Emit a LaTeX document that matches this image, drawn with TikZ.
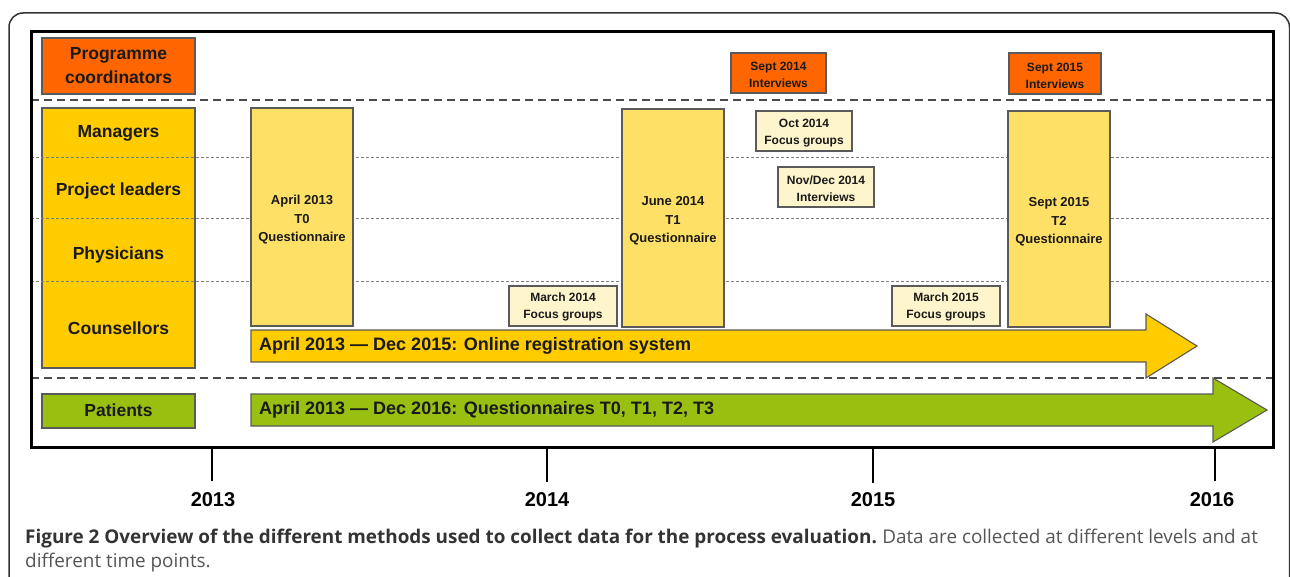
\documentclass[tikz,border=0pt]{standalone}
\usepackage{fontspec}
\setmainfont{Liberation Sans}
\newfontfamily\capfont{Open Sans}
\definecolor{orng}{HTML}{FF6600}
\definecolor{ylw}{HTML}{FFCC00}
\definecolor{tbox}{HTML}{FFE066}
\definecolor{cream}{HTML}{FFF5CC}
\definecolor{grn}{HTML}{99C010}
\definecolor{edge}{HTML}{5A5A5A}
\definecolor{ink}{HTML}{1A1A1A}
\definecolor{capbold}{HTML}{333333}
\definecolor{capreg}{HTML}{555555}
\tikzset{
  box/.style={draw=edge, line width=1.1pt, inner sep=0pt, align=center, text=ink, font=\bfseries},
  lbl/.style={box, font=\bfseries\fontsize{17.5}{24}\selectfont},
  plain/.style={inner sep=0pt, align=center, text=ink, font=\bfseries\fontsize{17.5}{24}\selectfont},
  tqfont/.style={inner sep=0pt, align=center, text=ink, font=\bfseries\fontsize{13}{18.5}\selectfont},
  smfont/.style={inner sep=0pt, align=center, text=ink, font=\bfseries\fontsize{12}{17}\selectfont},
  tq/.style={box, fill=tbox, label={[tqfont, yshift=-3pt]center:{#1}}},
  small/.style args={#1/#2}{box, label={[smfont, yshift=#1]center:{#2}}},
  sep/.style={draw=edge!85!black, line width=2.2pt, dash pattern=on 8pt off 5pt},
  fine/.style={draw=gray, line width=0.9pt, dash pattern=on 2.5pt off 2.5pt},
  tick/.style={draw=black, line width=2.5pt},
  year/.style={inner sep=0pt, text=black, font=\bfseries\fontsize{20}{24}\selectfont},
  arr/.style={draw=edge, line width=1.1pt},
  arrtxt/.style={inner sep=0pt, anchor=west, text=ink, font=\bfseries\fontsize{18}{22}\selectfont},
  captxt/.style={inner sep=0pt, anchor=base west, text=capreg, font=\capfont\fontsize{18.9}{26}\selectfont},
  capbf/.style={inner sep=0pt, anchor=base west, text=capbold, font=\capfont\bfseries\fontsize{18.9}{26}\selectfont}
}
\begin{document}
\begin{tikzpicture}[x=1pt, y=-1pt]
\useasboundingbox (0,0) rectangle (1290,577);
\clip (0,0) rectangle (1290,577);
% outer frame
\draw[line width=1.5pt, draw=black!80, rounded corners=14pt] (9,620) -- (9,13) -- (1289.5,13) -- (1289.5,620);
% left label box (under the row lines)
\node[box, fill=ylw, minimum width=153pt, minimum height=260pt] (staff) at (118.5,238) {};
% row separators
\draw[fine] (31,157) -- (1273,157);
\draw[fine] (31,218) -- (1273,218);
\draw[fine] (31,281) -- (1273,281);
\draw[sep] (31,100) -- (1273,100);
\draw[sep] (31,378) -- (1273,378);
% row labels
\node[plain] (mgr) at (118.5,133) {Managers};
\node[plain] (pl) at (118.5,191) {Project leaders};
\node[plain] (phy) at (118.5,255) {Physicians};
\node[plain] (cou) at (118.5,328) {Counsellors};
\node[lbl, fill=orng, minimum width=153pt, minimum height=56pt] (pc) at (118.5,66) {Programme\\coordinators};
\node[box, fill=grn, minimum width=153pt, minimum height=34pt, label={[plain, yshift=1pt]center:Patients}] (pat) at (118.5,411) {};
% questionnaire columns
\node[tq={April 2013\\T0\\Questionnaire}, minimum width=102pt, minimum height=218pt] (t0) at (302,217) {};
\node[tq={June 2014\\T1\\Questionnaire}, minimum width=102pt, minimum height=218pt] (t1) at (673,218) {};
\node[tq={Sept 2015\\T2\\Questionnaire}, minimum width=102pt, minimum height=216pt] (t2) at (1059,219) {};
% small boxes
\node[small={-2pt/{Sept 2014\\Interviews}}, fill=orng, minimum width=95pt, minimum height=40pt] (s14) at (778.5,73) {};
\node[small={-2pt/{Sept 2015\\Interviews}}, fill=orng, minimum width=92pt, minimum height=41pt] (s15) at (1055,73.5) {};
\node[small={-2pt/{Oct 2014\\Focus groups}}, fill=cream, minimum width=96pt, minimum height=40pt] (o14) at (804,131) {};
\node[small={-1.5pt/{Nov/Dec 2014\\Interviews}}, fill=cream, minimum width=96pt, minimum height=40pt] (nd14) at (826,187) {};
\node[small={-1pt/{March 2014\\Focus groups}}, fill=cream, minimum width=108pt, minimum height=40pt] (m14) at (563,306) {};
\node[small={-1pt/{March 2015\\Focus groups}}, fill=cream, minimum width=108pt, minimum height=40pt] (m15) at (946,306) {};
% arrows
\draw[arr, fill=ylw] (251,330) -- (1146,330) -- (1146,314) -- (1197,346) -- (1146,378) -- (1146,362) -- (251,362) -- cycle;
\node[arrtxt] (oreg) at (259,346) {April 2013 — Dec 2015: Online registration system};
\draw[arr, fill=grn] (251,394) -- (1213,394) -- (1213,378) -- (1267,410) -- (1213,442) -- (1213,426) -- (251,426) -- cycle;
\node[arrtxt] (pq) at (259,410) {April 2013 — Dec 2016: Questionnaires T0, T1, T2, T3};
% inner frame
\draw[line width=3pt, draw=black] (31,32) rectangle (1273,447);
% time axis
\draw[tick] (212,448) -- (212,481);
\draw[tick] (547,448) -- (547,482);
\draw[tick] (873,448) -- (873,483);
\draw[tick] (1215,448) -- (1215,481);
\node[year] (y13) at (213,500) {2013};
\node[year] (y14) at (547,500) {2014};
\node[year] (y15) at (873,500) {2015};
\node[year] (y16) at (1212,500) {2016};
% caption
\node[capbf] (cap1) at (25,543) {Figure 2 Overview of the different methods used to collect data for the process evaluation.};
\node[captxt] (cap2) at (cap1.base east) {\ Data are collected at different levels and at};
\node[captxt] (cap3) at (25,567) {different time points.};
\end{tikzpicture}
\end{document}
